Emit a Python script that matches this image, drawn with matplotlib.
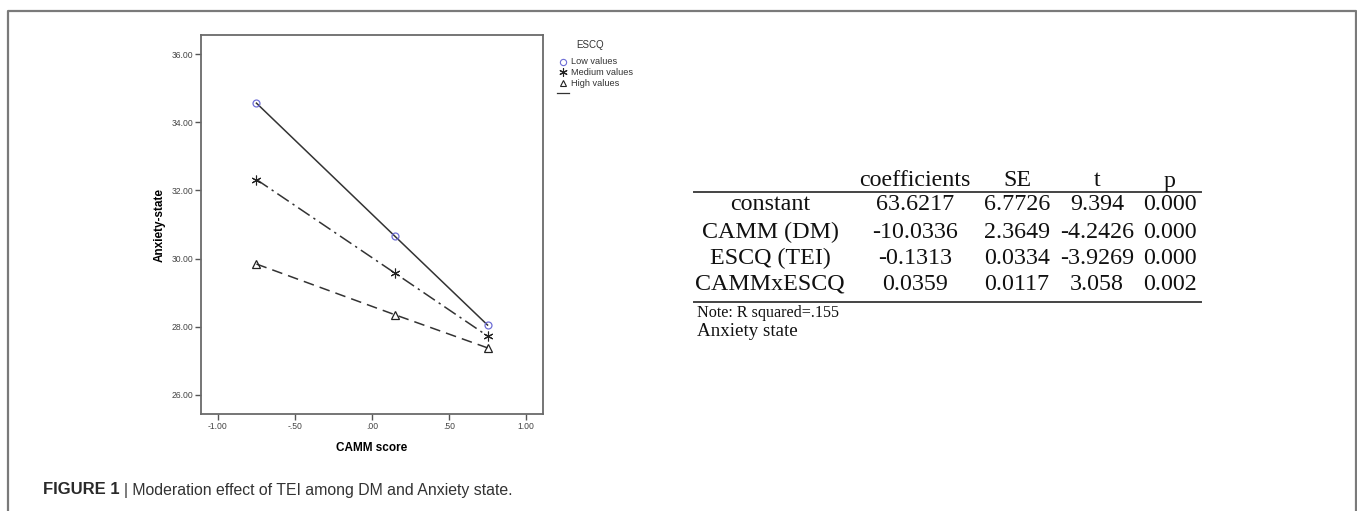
import matplotlib
matplotlib.use("Agg")
import matplotlib.pyplot as plt
from matplotlib.lines import Line2D

W, H = 1357, 511

# ---- data ----
camm = [-0.75, 0.15, 0.75]
low_values = [34.56, 30.65, 28.05]
medium_values = [32.32, 29.57, 27.73]
high_values = [29.84, 28.35, 27.38]
x_ticks = [-1.0, -0.5, 0.0, 0.5, 1.0]
x_tick_labels = ["-1.00", "-.50", ".00", ".50", "1.00"]
y_ticks = [26, 28, 30, 32, 34, 36]
y_tick_labels = ["26.00", "28.00", "30.00", "32.00", "34.00", "36.00"]

table_header = ["coefficients", "SE", "t", "p"]
row_names = ["constant", "CAMM (DM)", "ESCQ (TEI)", "CAMMxESCQ"]
coefficients = ["63.6217", "-10.0336", "-0.1313", "0.0359"]
se = ["6.7726", "2.3649", "0.0334", "0.0117"]
t_values = ["9.394", "-4.2426", "-3.9269", "3.058"]
p_values = ["0.000", "0.000", "0.000", "0.002"]

plt.rcParams['font.family'] = ['Liberation Sans', 'DejaVu Sans']

fig = plt.figure(figsize=(W / 100, H / 100), dpi=100)


def fx(px):
    return px / W


def fy(py):
    return 1 - py / H


# figure frame
fig.add_artist(Line2D([fx(8), fx(8), fx(1356), fx(1356)],
                      [0, fy(11), fy(11), 0], transform=fig.transFigure,
                      color="#7a7a7a", lw=1.6))

# ---- chart ----
ax = fig.add_axes([fx(201), fy(414), fx(543) - fx(201), fy(35) - fy(414)])
line_col = "#333333"
ax.plot(camm, low_values, color=line_col, lw=1.1, ls="-", marker="o",
        mfc="none", mec="#6e6ed6", ms=5, mew=0.9)
ax.plot(camm, medium_values, color=line_col, lw=1.1, ls=(0, (9, 3, 1.5, 3)),
        marker=(6, 2, 0), mec="#222222", ms=7, mew=0.8)
ax.plot(camm, high_values, color=line_col, lw=1.1, ls=(0, (7, 4)),
        marker="^", mfc="none", mec="#222222", ms=6, mew=0.9)

ax.set_xlim(-1.11, 1.11)
ax.set_ylim(25.44, 36.56)
ax.set_xticks(x_ticks)
ax.set_xticklabels(x_tick_labels)
ax.set_yticks(y_ticks)
ax.set_yticklabels(y_tick_labels)
ax.tick_params(direction="out", length=4, width=1.0, color="#555555",
               labelsize=6.2, labelcolor="#444444", pad=1.5)
for s in ax.spines.values():
    s.set_color("#6a6a6a")
    s.set_linewidth(1.3)
ax.set_xlabel("CAMM score", fontsize=8.5, fontweight="bold", labelpad=8)
ax.set_ylabel("Anxiety-state", fontsize=8.5, fontweight="bold", labelpad=4)

# legend (SPSS style)
fig.text(fx(590), fy(45), "ESCQ", fontsize=7, ha="center", va="center",
         color="#333333")
leg_items = [("Low values", 62), ("Medium values", 72.5), ("High values", 83)]
for (lab, yy) in leg_items:
    fig.text(fx(571), fy(yy), lab, fontsize=6.6, ha="left", va="center",
             color="#333333")
fig.add_artist(Line2D([fx(563)], [fy(62)], transform=fig.transFigure,
                      marker="o", mfc="none", mec="#6e6ed6", ms=4.5, mew=0.8))
fig.add_artist(Line2D([fx(563)], [fy(72.5)], transform=fig.transFigure,
                      marker=(6, 2, 0), mec="#222222", ms=6, mew=0.8))
fig.add_artist(Line2D([fx(563)], [fy(83)], transform=fig.transFigure,
                      marker="^", mfc="none", mec="#222222", ms=5, mew=0.8))
fig.add_artist(Line2D([fx(557), fx(569)], [fy(93), fy(93)],
                      transform=fig.transFigure, color="#333333", lw=0.9))

# ---- table ----
serif = ['Liberation Serif', 'DejaVu Serif']
fs = 17.3
col_x = [915, 1017, 1097, 1170]
name_x = 770
header_y = 181
row_y = [205, 232, 258, 284]
for hx, h in zip(col_x, table_header):
    fig.text(fx(hx), fy(header_y), h, family=serif, fontsize=fs,
             ha="center", va="center", color="#111111")
fig.add_artist(Line2D([fx(694), fx(1201)], [fy(192), fy(192)],
                      transform=fig.transFigure, color="#444444", lw=1.4))
for i, ry in enumerate(row_y):
    fig.text(fx(name_x), fy(ry), row_names[i], family=serif, fontsize=fs,
             ha="center", va="center", color="#111111")
    for cx, col in zip(col_x, [coefficients, se, t_values, p_values]):
        fig.text(fx(cx), fy(ry), col[i], family=serif, fontsize=fs,
                 ha="center", va="center", color="#111111")
fig.add_artist(Line2D([fx(694), fx(1201)], [fy(302), fy(302)],
                      transform=fig.transFigure, color="#444444", lw=1.4))
fig.text(fx(697), fy(313), "Note: R squared=.155", family=serif,
         fontsize=11.6, ha="left", va="center", color="#111111")
fig.text(fx(697), fy(331), "Anxiety state", family=serif,
         fontsize=13.7, ha="left", va="center", color="#111111")

# ---- caption ----
cap_fs = 11.4
t1 = fig.text(fx(43), fy(490), "FIGURE 1", fontsize=12, fontweight="bold",
              ha="left", va="center", color="#2a2a2a")
renderer = fig.canvas.get_renderer()
bb = t1.get_window_extent(renderer=renderer)
fig.text((bb.x1 + 4) / W, fy(490), "| Moderation effect of TEI among DM and Anxiety state.",
         fontsize=cap_fs, ha="left", va="center", color="#333333")

fig.savefig("out.png", dpi=100)
